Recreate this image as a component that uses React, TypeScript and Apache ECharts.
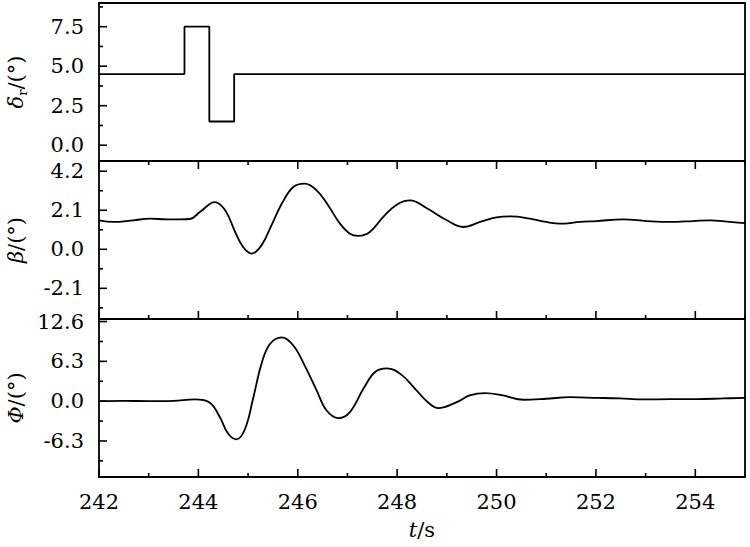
import React, { useEffect, useRef } from "react";
import * as echarts from "echarts";

// time axis
const T_MIN = 242;
const T_MAX = 255;
const X_INTERVAL = 2;
const X_MAJOR = [242, 244, 246, 248, 250, 252, 254];
const X_MINOR = [243, 245, 247, 249, 251, 253, 255];

// rudder deflection (step signal)
const T_STEP = [242, 243.72, 243.72, 244.22, 244.22, 244.72, 244.72, 255];
const DELTA_R = [4.5, 4.5, 7.5, 7.5, 1.5, 1.5, 4.5, 4.5];

// sideslip angle
const T_BETA = [242, 242.29, 242.69, 243.03, 243.36, 243.63, 243.83, 244.03, 244.33, 244.54, 244.74, 244.9, 245.07, 245.27, 245.47, 245.68, 245.91, 246.14, 246.38, 246.61, 246.85, 247.05, 247.22, 247.45, 247.72, 247.99, 248.26, 248.59, 249.0, 249.33, 249.67, 250.0, 250.3, 250.67, 251.0, 251.28, 251.68, 252.01, 252.55, 253.02, 253.49, 253.96, 254.29, 254.7, 255];
const BETA = [1.56, 1.47, 1.56, 1.65, 1.61, 1.61, 1.63, 2.0, 2.54, 2.1, 0.93, 0.12, -0.23, 0.21, 1.29, 2.46, 3.35, 3.53, 3.17, 2.37, 1.38, 0.84, 0.72, 0.93, 1.74, 2.4, 2.63, 2.22, 1.56, 1.2, 1.47, 1.72, 1.77, 1.65, 1.47, 1.38, 1.47, 1.52, 1.61, 1.52, 1.47, 1.52, 1.56, 1.47, 1.41];

// roll angle
const T_PHI = [242, 242.5, 243, 243.5, 243.93, 244.23, 244.43, 244.6, 244.77, 244.94, 245.1, 245.27, 245.44, 245.68, 245.91, 246.14, 246.38, 246.58, 246.82, 247.05, 247.32, 247.55, 247.79, 248.09, 248.39, 248.63, 248.83, 249.2, 249.46, 249.77, 250.13, 250.54, 251.0, 251.48, 252.01, 252.48, 252.95, 253.49, 254.03, 254.56, 255];
const PHI = [0.0, 0.05, 0.0, 0.05, 0.27, -0.26, -2.5, -5.15, -6.04, -4.36, 0.37, 5.9, 9.05, 10.1, 8.8, 5.63, 1.69, -1.47, -2.68, -1.73, 1.95, 4.57, 5.2, 4.16, 1.69, -0.25, -1.1, -0.15, 0.9, 1.26, 0.9, 0.22, 0.38, 0.63, 0.53, 0.43, 0.27, 0.32, 0.32, 0.43, 0.53];

// y tick labels / ranges
const Y1_RANGE = [-1, 9];
const Y1_MAJOR = [0, 2.5, 5, 7.5];
const Y1_MINOR = [1.25, 3.75, 6.25, 8.75];
const Y2_RANGE = [-3.75, 4.75];
const Y2_MAJOR = [-2.1, 0, 2.1, 4.2];
const Y2_MINOR = [-3.15, -1.05, 1.05, 3.15];
const Y3_RANGE = [-12, 13];
const Y3_MAJOR = [-6.3, 0, 6.3, 12.6];
const Y3_MINOR = [-9.45, -3.15, 3.15, 9.45];

const FONT = "DejaVu Serif";
const FS = 21;
const MAJOR_LEN = 8;
const MINOR_LEN = 4;

export default function App() {
  const ref = useRef<HTMLDivElement>(null);
  useEffect(() => {
    document.body.style.margin = "0";
    const chart = echarts.init(ref.current!, null, { renderer: "svg" });
    const grids = [
      { left: 99, right: 5, top: 3, height: 158 },
      { left: 99, right: 5, top: 161, height: 158 },
      { left: 99, right: 5, top: 319, height: 158 },
    ].map((g) => ({
      ...g,
      show: true,
      borderColor: "#000",
      borderWidth: 1.8,
      containLabel: false,
      outerBoundsMode: "none",
    }));

    const xMain = (gridIndex: number, labels: boolean) => ({
      type: "value",
      gridIndex,
      position: "bottom",
      min: T_MIN,
      max: T_MAX,
      interval: X_INTERVAL,
      axisLine: { show: false, onZero: false },
      axisTick: { show: false },
      minorTick: { show: false },
      splitLine: { show: false },
      axisLabel: {
        show: labels,
        margin: 14,
        fontFamily: FONT,
        fontSize: FS,
        color: "#000",
        formatter: (v: number) => (v >= T_MAX ? "" : String(v)),
      },
    });

    const xAxis: any[] = [
      xMain(0, false),
      xMain(1, false),
      {
        ...xMain(2, true),
        name: "{i|t}{n|/s}",
        nameLocation: "middle",
        nameGap: 42,
        nameTextStyle: {
          rich: {
            i: { fontFamily: FONT, fontSize: FS, fontStyle: "italic", color: "#000" },
            n: { fontFamily: FONT, fontSize: FS, color: "#000" },
          },
        },
      },
    ];

    const nameRich = {
      i: { fontFamily: FONT, fontSize: FS, fontStyle: "italic", color: "#000", lineHeight: 26 },
      n: { fontFamily: FONT, fontSize: FS, color: "#000", lineHeight: 26 },
      s: { fontFamily: FONT, fontSize: 13, color: "#000", lineHeight: 26, verticalAlign: "bottom" },
    };

    const yMain = (gridIndex: number, range: number[], major: number[], name: string) => ({
      type: "value",
      gridIndex,
      position: "left",
      min: range[0],
      max: range[1],
      axisLine: { show: false, onZero: false },
      splitLine: { show: false },
      axisTick: { show: false },
      axisLabel: {
        show: true,
        customValues: major,
        margin: 15,
        fontFamily: FONT,
        fontSize: FS,
        color: "#000",
        formatter: (v: number) => v.toFixed(1),
      },
      name,
      nameLocation: "middle",
      nameGap: 70,
      nameTextStyle: { rich: nameRich },
    });

    const yAxis: any[] = [
      yMain(0, Y1_RANGE, Y1_MAJOR, "{i|δ}{s|r}{n|/(°)}"),
      yMain(1, Y2_RANGE, Y2_MAJOR, "{i|β}{n|/(°)}"),
      yMain(2, Y3_RANGE, Y3_MAJOR, "{i|Φ}{n|/(°)}"),
    ];

    const tickLine = (x1: number, y1: number, x2: number, y2: number) => ({
      type: "line",
      shape: { x1, y1, x2, y2 },
      style: { stroke: "#000", lineWidth: 1.6 },
    });

    // all inward ticks of one panel, drawn as one group through the panel's scales
    const tickSeries = (
      idx: number,
      range: number[],
      yMajor: number[],
      yMinor: number[],
      bottomTicks: boolean,
      topTicks: boolean
    ) => ({
      type: "custom",
      xAxisIndex: idx,
      yAxisIndex: idx,
      z: 10,
      silent: true,
      clip: false,
      data: [[T_MIN, range[0]]],
      renderItem: (params: any, api: any) => {
        const children: any[] = [];
        const addY = (v: number, len: number) => {
          const p = api.coord([T_MIN, v]);
          children.push(tickLine(p[0], p[1], p[0] + len, p[1]));
        };
        yMajor.forEach((v) => addY(v, MAJOR_LEN));
        yMinor.forEach((v) => addY(v, MINOR_LEN));
        const addX = (v: number, len: number) => {
          if (bottomTicks) {
            const p = api.coord([v, range[0]]);
            children.push(tickLine(p[0], p[1], p[0], p[1] - len));
          }
          if (topTicks) {
            const p = api.coord([v, range[1]]);
            children.push(tickLine(p[0], p[1], p[0], p[1] + len));
          }
        };
        X_MAJOR.forEach((v) => addX(v, MAJOR_LEN));
        X_MINOR.forEach((v) => addX(v, MINOR_LEN));
        return { type: "group", children };
      },
    });

    const lineStyle = { color: "#000", width: 1.8 };
    const series: any[] = [
      {
        type: "line",
        xAxisIndex: 0,
        yAxisIndex: 0,
        data: T_STEP.map((t, i) => [t, DELTA_R[i]]),
        showSymbol: false,
        lineStyle,
      },
      {
        type: "line",
        xAxisIndex: 1,
        yAxisIndex: 1,
        data: T_BETA.map((t, i) => [t, BETA[i]]),
        showSymbol: false,
        smooth: 0.4,
        lineStyle,
      },
      {
        type: "line",
        xAxisIndex: 2,
        yAxisIndex: 2,
        data: T_PHI.map((t, i) => [t, PHI[i]]),
        showSymbol: false,
        smooth: 0.4,
        lineStyle,
      },
      tickSeries(0, Y1_RANGE, Y1_MAJOR, Y1_MINOR, false, false),
      tickSeries(1, Y2_RANGE, Y2_MAJOR, Y2_MINOR, true, true),
      tickSeries(2, Y3_RANGE, Y3_MAJOR, Y3_MINOR, true, false),
    ];

    chart.setOption({
      animation: false,
      backgroundColor: "#fff",
      textStyle: { fontFamily: FONT },
      grid: grids,
      xAxis,
      yAxis,
      series,
    });
    return () => chart.dispose();
  }, []);
  return <div ref={ref} style={{ width: 750, height: 547 }} />;
}
